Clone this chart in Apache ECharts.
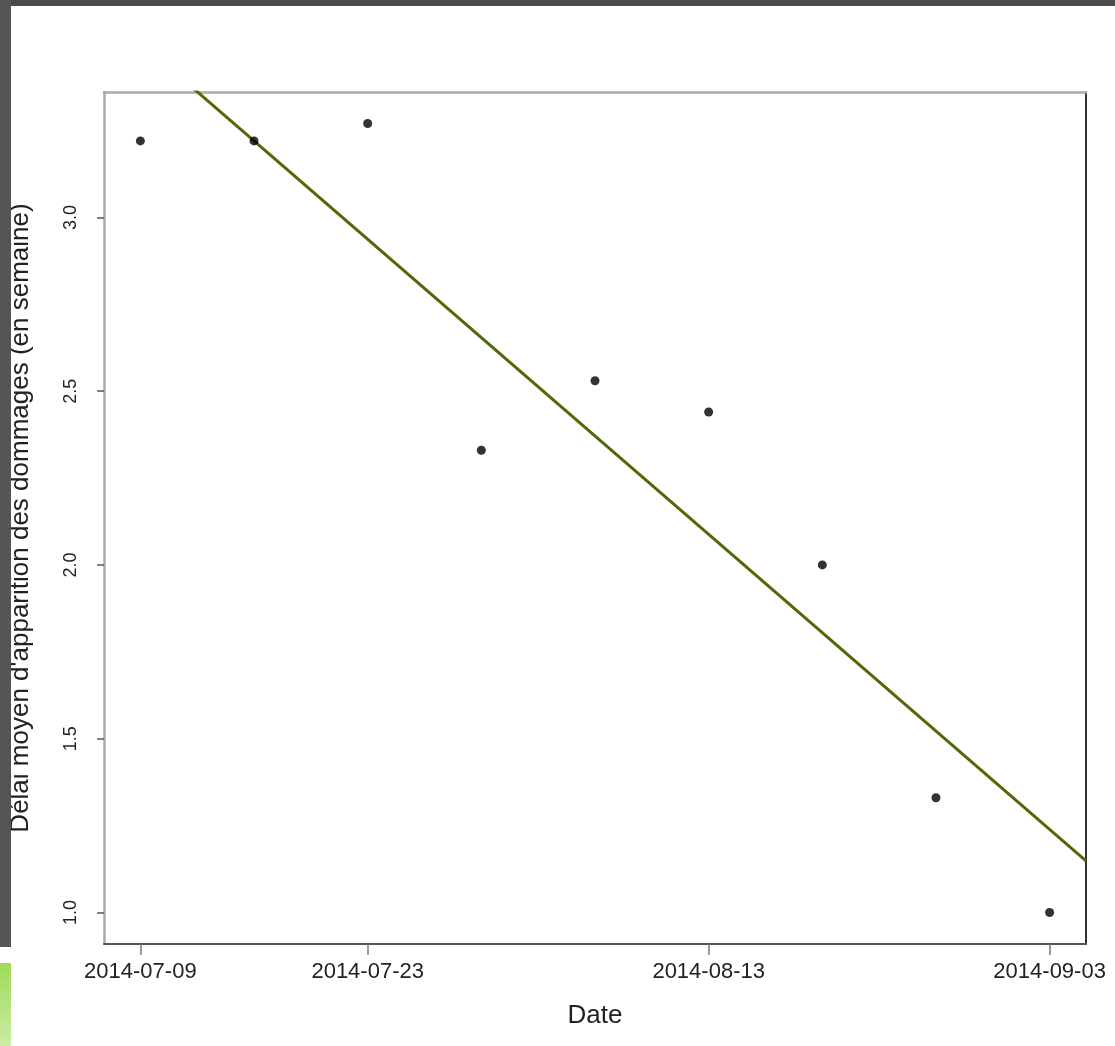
<!DOCTYPE html>
<html>
<head>
<meta charset="utf-8">
<script src="https://cdn.jsdelivr.net/npm/echarts@6/dist/echarts.min.js"></script>
<style>
html,body{margin:0;padding:0;background:#fff;}
#chart{width:1115px;height:1046px;}
</style>
</head>
<body>
<div id="chart"></div>
<script>
// ---- data ----
const dates = ['2014-07-09','2014-07-16','2014-07-23','2014-07-30','2014-08-06','2014-08-13','2014-08-20','2014-08-27','2014-09-03'];
const delays = [3.22, 3.22, 3.27, 2.33, 2.53, 2.44, 2.00, 1.33, 1.00];
const xTickLabels = ['2014-07-09','2014-07-23','2014-08-13','2014-09-03'];
const yTicks = [1.0, 1.5, 2.0, 2.5, 3.0];

const ts = d => { const p = d.split('-').map(Number); return Date.UTC(p[0], p[1]-1, p[2]); };
const xs = dates.map(ts);
const DAY = 86400000;

// R-style 4% axis extension
const xSpan = xs[xs.length-1] - xs[0];
const xMin = xs[0] - 0.04 * xSpan;
const xMax = xs[xs.length-1] + 0.04 * xSpan;
const yLo = Math.min(...delays), yHi = Math.max(...delays);
const yMin = yLo - 0.04 * (yHi - yLo);
const yMax = yHi + 0.04 * (yHi - yLo);

// least-squares regression line (abline(lm(...)))
const n = xs.length;
const dx = xs.map(x => (x - xs[0]) / DAY);
const mx = dx.reduce((a,b)=>a+b,0)/n, my = delays.reduce((a,b)=>a+b,0)/n;
let sxy = 0, sxx = 0;
for (let i=0;i<n;i++){ sxy += (dx[i]-mx)*(delays[i]-my); sxx += (dx[i]-mx)*(dx[i]-mx); }
const slope = sxy/sxx, icpt = my - slope*mx;
const fit = x => icpt + slope * ((x - xs[0]) / DAY);

const chart = echarts.init(document.getElementById('chart'));
const fmt = v => new Date(v).toISOString().slice(0,10);
const font = 'Liberation Sans, Arial, sans-serif';

chart.setOption({
  animation: false,
  backgroundColor: '#fff',
  grid: { left: 103, right: 29, top: 92, bottom: 102, containLabel: false },
  xAxis: [{
    type: 'value', min: xMin, max: xMax,
    name: 'Date', nameLocation: 'middle', nameGap: 59,
    nameTextStyle: { fontFamily: font, fontSize: 26, color: '#222' },
    axisLine: { show: true, lineStyle: { color: '#555', width: 2 } },
    axisTick: { show: true, length: 11, lineStyle: { color: '#777', width: 1.5 }, customValues: xTickLabels.map(ts) },
    axisLabel: { fontFamily: font, fontSize: 22, color: '#222', margin: 17, formatter: fmt, customValues: xTickLabels.map(ts), showMinLabel: true, showMaxLabel: true },
    splitLine: { show: false }
  }, {
    type: 'value', position: 'top', min: xMin, max: xMax,
    axisLine: { show: true, onZero: false, lineStyle: { color: '#aaa', width: 2.5 } },
    axisTick: { show: false }, axisLabel: { show: false }, splitLine: { show: false }
  }],
  yAxis: [{
    type: 'value', min: yMin, max: yMax,
    name: "Délai moyen d'apparition des dommages (en semaine)",
    nameLocation: 'middle', nameGap: 70, nameRotate: 90,
    nameTextStyle: { fontFamily: font, fontSize: 26, color: '#222' },
    axisLine: { show: true, lineStyle: { color: '#aaa', width: 2.5 } },
    axisTick: { show: true, length: 7, lineStyle: { color: '#555', width: 1.5 }, customValues: yTicks },
    axisLabel: { fontFamily: font, fontSize: 18, color: '#222', rotate: 90, margin: 24, formatter: v => v.toFixed(1), customValues: yTicks },
    splitLine: { show: false }
  }, {
    type: 'value', position: 'right', min: yMin, max: yMax,
    axisLine: { show: true, onZero: false, lineStyle: { color: '#333', width: 2 } },
    axisTick: { show: false }, axisLabel: { show: false }, splitLine: { show: false }
  }],
  series: [{
    type: 'line',
    data: [[xMin, fit(xMin)], [xMax, fit(xMax)]],
    showSymbol: false, symbol: 'none', clip: true,
    lineStyle: { color: '#4f6a06', width: 3 },
    z: 2
  }, {
    type: 'scatter',
    data: xs.map((x,i) => [x, delays[i]]),
    symbol: 'circle', symbolSize: 9,
    itemStyle: { color: '#000' },
    z: 3
  }],
  graphic: [
    { type: 'rect', left: 0, top: 0, shape: { width: 1115, height: 6 }, style: { fill: '#4b4b4b' }, z: 100 },
    { type: 'rect', left: 0, top: 0, shape: { width: 11, height: 947 }, style: { fill: '#555555' }, z: 100 },
    { type: 'rect', left: 0, top: 963, shape: { width: 11, height: 83 },
      style: { fill: new echarts.graphic.LinearGradient(0,0,0,1,[{offset:0,color:'#9edb56'},{offset:1,color:'#cbeca6'}]) }, z: 100 }
  ]
});
</script>
</body>
</html>
